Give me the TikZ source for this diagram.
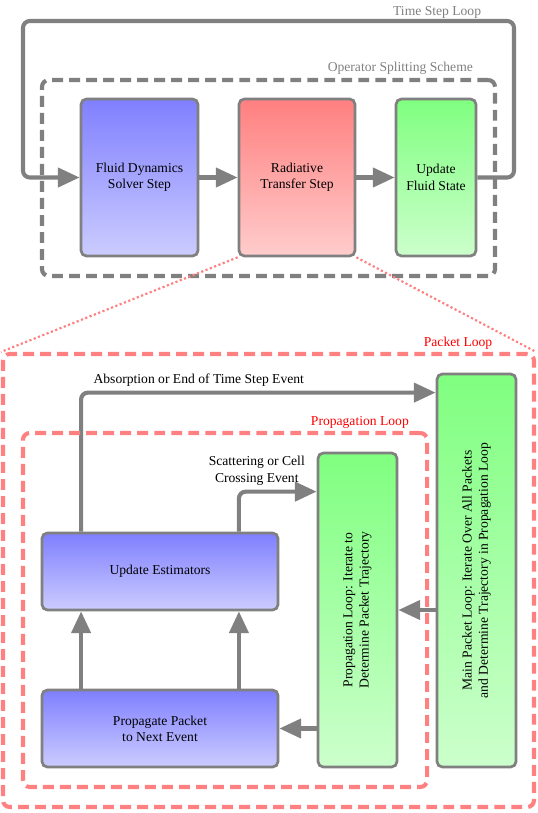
\documentclass[tikz,border=0pt]{standalone}
\usepackage{fontspec}
\setmainfont{Liberation Serif}
\usetikzlibrary{arrows.meta,positioning,calc}
\colorlet{linegray}{black!50}
\colorlet{looppink}{red!50}
\tikzset{
  stepbox/.style={draw=linegray, line width=2pt, rounded corners=4pt, align=center, inner sep=2pt},
  bluebox/.style={stepbox, top color=blue!50, bottom color=blue!20},
  redbox/.style={stepbox, top color=red!50, bottom color=red!20},
  greenbox/.style={stepbox, top color=green!50, bottom color=green!20},
  arrow/.style={-{Triangle[length=16pt,width=14pt]}, draw=linegray, line width=3pt, rounded corners=5pt},
  loopframe/.style={line width=3pt, dash pattern=on 8pt off 4.5pt, rounded corners=5pt},
  framelabel/.style={anchor=base east, inner sep=0pt},
  zoomline/.style={draw=looppink, line width=1.6pt, dash pattern=on 1.6pt off 1.8pt}
}

\begin{document}
\begin{tikzpicture}[x=0.735pt, y=-0.735pt]
  \useasboundingbox (0,0) rectangle (538,813);

  % Operator splitting steps
  \node[bluebox, minimum width=86pt, minimum height=115.4pt] (fluid) at (139.5,177.5) {Fluid Dynamics\\Solver Step};
  \node[redbox, minimum width=85.3pt, minimum height=115.4pt] (rad) at (297,177.5) {Radiative\\Transfer Step};
  \node[greenbox, minimum width=58.8pt, minimum height=115.4pt] (upd) at (436,177.5) {Update\\Fluid State};

  % Time step loop corners
  \coordinate (tsr) at (514,21);
  \coordinate (tsl) at (23,21);

  \draw[arrow] (fluid) -- (rad);
  \draw[arrow] (rad) -- (upd);
  \draw[arrow] (upd.east) -| (tsr) -- (tsl) |- (fluid.west);
  \node[framelabel, text=linegray] at ([xshift=-24pt,yshift=4.4pt]tsr) {Time Step Loop};

  % Packet and propagation loop
  \node[bluebox, minimum width=173.5pt, minimum height=56.6pt] (est) at (160,571.5) {Update Estimators};
  \node[bluebox, minimum width=173.5pt, minimum height=56.6pt] (prp) at (160,728.5) {Propagate Packet\\to Next Event};
  \node[greenbox, minimum width=58.1pt, minimum height=230.8pt,
    label={[rotate=90, align=center]center:{Propagation Loop: Iterate to\\Determine Packet Trajectory}}] (prop) at (357.5,610) {};
  \node[greenbox, minimum width=58.1pt, minimum height=288.9pt,
    label={[rotate=90, align=center]center:{Main Packet Loop: Iterate Over All Packets\\and Determine Trajectory in Propagation Loop}}] (main) at (476.5,570.5) {};

  \draw[arrow] ([xshift=-58pt]prp.north) -- ([xshift=-58pt]est.south);
  \draw[arrow] ([xshift=58pt]prp.north) -- ([xshift=58pt]est.south);
  \draw[arrow] (prop.west |- prp.east) -- (prp.east);
  \draw[arrow] (main.west |- prop.east) -- (prop.east);
  \draw[arrow] ([xshift=58pt]est.north) |- ([yshift=-29.4pt]prop.north west)
    node[pos=0.615, above, align=center] {Scattering or Cell\\Crossing Event};
  \draw[arrow] ([xshift=-58pt]est.north) |- ([yshift=-14.7pt]main.north west)
    node[pos=0.666, above] {Absorption or End of Time Step Event};

  % Loop frames
  \node[loopframe, draw=linegray, minimum width=333pt, minimum height=144pt] (ops) at (268.5,178) {};
  \node[framelabel, text=linegray] at ([xshift=-17.6pt,yshift=5pt]ops.north east) {Operator Splitting Scheme};
  \node[loopframe, draw=looppink, minimum width=390.3pt, minimum height=333pt] (pack) at (268.5,580.5) {};
  \node[framelabel, text=red] at ([xshift=-32pt,yshift=3.7pt]pack.north east) {Packet Loop};
  \node[loopframe, draw=looppink, minimum width=297pt, minimum height=260.2pt] (ploop) at (225,610) {};
  \node[framelabel, text=red] at ([xshift=-14.7pt,yshift=3.7pt]ploop.north east) {Propagation Loop};

  % Zoom from radiative transfer step
  \draw[zoomline] (rad.south west) -- (pack.north west);
  \draw[zoomline] (rad.south east) -- (pack.north east);
\end{tikzpicture}
\end{document}
